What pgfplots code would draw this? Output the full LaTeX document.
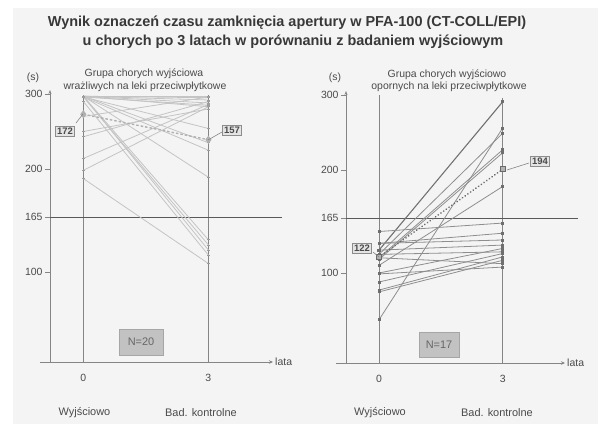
\documentclass[border=0pt]{standalone}
\usepackage{fontspec}
\setmainfont{Liberation Sans}
\usepackage{pgfplots}
\pgfplotsset{compat=1.18}
\usetikzlibrary{arrows.meta}
\definecolor{bg}{HTML}{F4F4F4}
\definecolor{axc}{HTML}{858585}
\definecolor{txt}{HTML}{4A4A4A}
\definecolor{lline}{HTML}{C4C4C4}
\definecolor{rline}{HTML}{8E8E8E}
\definecolor{rmark}{HTML}{6E6E6E}
\definecolor{lmean}{HTML}{B0B0B0}
\definecolor{rmean}{HTML}{6A6A6A}
\definecolor{nbox}{HTML}{C2C2C2}
\definecolor{mbox}{HTML}{E4E4E4}
\pgfplotsset{
 panel/.style={
  scale only axis, width=#1, height=272bp,
  y coord trafo/.code={\pgfmathparse{0.9*min(##1,100)+0.846*max(0,min(##1,165)-100)+1.371*max(0,min(##1,200)-165)+0.75*max(0,##1-200)}},
  xmin=-0.8, ymin=0, ymax=305.3,
  axis lines=left,
  axis line style={draw=axc, line width=0.9bp},
  x axis line style={-{Stealth[length=4bp,width=3.5bp]}, shorten <=-10bp},
  y axis line style={-{Stealth[length=4bp,width=3bp]}},
  ytick={100,165,200,300}, yticklabels={100,165,200,300},
  xtick={0,3}, xticklabels={0,3},
  tick align=outside, major tick length=5bp,
  y tick style={draw=axc, line width=0.8bp},
  x tick style={draw=none},
  ticklabel style={font=\fontsize{10.5}{11}\selectfont, text=txt},
  yticklabel style={xshift=1bp},
  xticklabel style={yshift=-4bp},
  /pgf/number format/assume math mode=true,
  clip=false,
 },
 ll/.style={lline, line width=0.8bp, mark=-, mark size=1.5bp, mark options={draw=lline!80!black}},
 rl/.style={rline, line width=0.8bp, mark=square*, mark size=1bp, mark options={fill=rmark, draw=rmark}},
 vl/.style={draw=axc, line width=0.9bp, no marks},
 hl/.style={draw=black!65, line width=0.8bp, no marks},
}
\begin{document}
\begin{tikzpicture}[x=1bp,y=1bp]
\useasboundingbox (0,0) rectangle (603,429);
\fill[white] (0,0) rectangle (603,429);
\fill[bg] (13,5) rectangle (598,421);
% ---------- left panel ----------
\begin{axis}[panel=223bp, xmax=4.55, at={(50bp,67bp)}, anchor=south west]
\addplot[vl] coordinates {(0,0) (0,298)};
\addplot[vl] coordinates {(3,0) (3,298)};
\addplot[hl] coordinates {(-0.8,165) (4.76,165)};
\addplot[ll] coordinates {(0,297) (3,297)};
\addplot[ll] coordinates {(0,297) (3,295)};
\addplot[ll] coordinates {(0,297) (3,292)};
\addplot[ll] coordinates {(0,297) (3,288)};
\addplot[ll] coordinates {(0,296) (3,285)};
\addplot[ll] coordinates {(0,297) (3,283)};
\addplot[ll] coordinates {(0,296) (3,254)};
\addplot[ll] coordinates {(0,297) (3,235)};
\addplot[ll] coordinates {(0,296) (3,225)};
\addplot[ll] coordinates {(0,297) (3,194)};
\addplot[ll] coordinates {(0,297) (3,138)};
\addplot[ll] coordinates {(0,296) (3,132)};
\addplot[ll] coordinates {(0,297) (3,126)};
\addplot[ll] coordinates {(0,290) (3,120)};
\addplot[ll] coordinates {(0,193) (3,110)};
\addplot[ll] coordinates {(0,243) (3,290)};
\addplot[ll] coordinates {(0,214) (3,286)};
\addplot[ll] coordinates {(0,199) (3,283)};
\addplot[ll] coordinates {(0,270) (3,296)};
\addplot[ll] coordinates {(0,250) (3,280)};
\addplot[lmean, line width=1.4bp, dash pattern=on 2.5bp off 2bp, mark=diamond*, mark size=3bp, mark options={solid, fill=lmean}] coordinates {(0,273) (3,239)};
\end{axis}
% ---------- right panel ----------
\begin{axis}[panel=219bp, xmax=4.51, at={(346bp,66bp)}, anchor=south west]
\addplot[vl] coordinates {(0,0) (0,300)};
\addplot[vl] coordinates {(3,0) (3,296)};
\addplot[hl] coordinates {(-0.8,165) (4.82,165)};
\addplot[rl, line width=1.1bp, rline!80!black] coordinates {(0,127) (3,291)};
\addplot[rl] coordinates {(0,48) (3,256)};
\addplot[rl] coordinates {(0,122) (3,249)};
\addplot[rl] coordinates {(0,118) (3,227)};
\addplot[rl] coordinates {(0,116) (3,223)};
\addplot[rl] coordinates {(0,109) (3,188)};
\addplot[rl] coordinates {(0,149) (3,159)};
\addplot[rl] coordinates {(0,135) (3,147)};
\addplot[rl] coordinates {(0,135) (3,139)};
\addplot[rl] coordinates {(0,127) (3,133)};
\addplot[rl] coordinates {(0,100) (3,129)};
\addplot[rl] coordinates {(0,122) (3,125)};
\addplot[rl] coordinates {(0,90) (3,123)};
\addplot[rl] coordinates {(0,81) (3,119)};
\addplot[rl] coordinates {(0,79) (3,115)};
\addplot[rl] coordinates {(0,118) (3,111)};
\addplot[rl] coordinates {(0,99) (3,107)};
\addplot[rmean, line width=1.8bp, dash pattern=on 0.1bp off 3.2bp, line cap=round, mark=square*, mark size=2.5bp, mark options={solid, fill=gray!60, draw=rmean, line width=0.6bp}] coordinates {(0,119) (3,201)};
\end{axis}
% ---------- annotations ----------
\node[font=\fontsize{14.5}{16}\selectfont\bfseries, text=black!78] at (287,406) {Wynik oznaczeń czasu zamknięcia apertury w PFA-100 (CT-COLL/EPI)};
\node[font=\fontsize{14.5}{16}\selectfont\bfseries, text=black!78] at (293,387) {u chorych po 3 latach w porównaniu z badaniem wyjściowym};
\begin{scope}[font=\fontsize{10.5}{11}\selectfont, text=txt]
\node at (33,351) {(s)};
\node at (335,351) {(s)};
\node[anchor=west, inner sep=1bp] at (274,67) {lata};
\node[anchor=west, inner sep=1bp] at (566,66) {lata};
\end{scope}
\begin{scope}[font=\fontsize{11}{12}\selectfont, text=txt]
\node at (84.5,16) {Wyjściowo};
\node at (201,16) {Bad. kontrolne};
\node at (380,16) {Wyjściowo};
\node at (497,16) {Bad. kontrolne};
\end{scope}
\begin{scope}[font=\fontsize{10.5}{11}\selectfont, text=txt]
\node at (144,355) {Grupa chorych wyjściowa};
\node at (145,342) {wrażliwych na leki przeciwpłytkowe};
\node at (447,354) {Grupa chorych wyjściowo};
\node at (449,342) {opornych na leki przeciwpłytkowe};
\end{scope}
\draw[axc, line width=0.6bp] (76,306) -- (83,315);
\draw[axc, line width=0.6bp] (222,297) -- (208,289);
\draw[axc, line width=0.6bp] (373,177) -- (379,172);
\draw[axc, line width=0.6bp] (529,266) -- (507,259);
\begin{scope}[every node/.style={draw=black!45, fill=mbox, line width=0.6bp, inner sep=1.8bp, font=\fontsize{9.5}{10}\selectfont\bfseries, text=txt}]
\node at (65,298) {172};
\node at (232,299) {157};
\node at (362,181) {122};
\node at (540,268) {194};
\end{scope}
\begin{scope}[every node/.style={draw=black!35, fill=nbox, line width=0.8bp, font=\fontsize{11}{12}\selectfont, text=black!60}]
\node[minimum width=44bp, minimum height=26bp] at (141,87) {N=20};
\node[minimum width=40bp, minimum height=25bp] at (439,84.5) {N=17};
\end{scope}
\end{tikzpicture}
\end{document}
